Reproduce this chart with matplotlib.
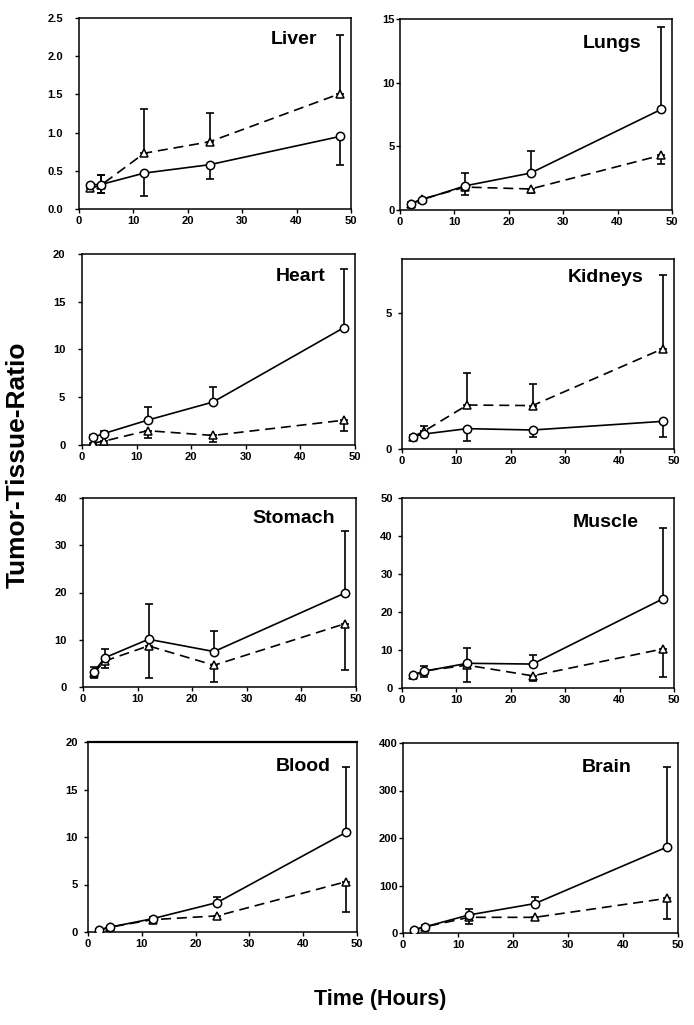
import matplotlib
matplotlib.use("Agg")
import matplotlib.pyplot as plt
import numpy as np

plt.rcParams['font.family'] = ['Liberation Sans', 'DejaVu Sans']
plt.rcParams['font.weight'] = 'bold'

hours = [2, 4, 12, 24, 48]
organs = ["Liver", "Lungs", "Heart", "Kidneys", "Stomach", "Muscle", "Blood", "Brain"]

# circle series (solid line)
liver_c = [0.32, 0.32, 0.47, 0.58, 0.95]
lungs_c = [0.5, 0.8, 1.9, 2.9, 7.9]
heart_c = [0.8, 1.2, 2.6, 4.5, 12.3]
kidneys_c = [0.45, 0.55, 0.75, 0.7, 1.02]
stomach_c = [3.2, 6.2, 10.1, 7.5, 19.9]
muscle_c = [3.3, 4.4, 6.5, 6.3, 23.5]
blood_c = [0.2, 0.5, 1.4, 3.1, 10.5]
brain_c = [7, 13, 38, 62, 181]

liver_c_lo = [0.05, 0.11, 0.30, 0.19, 0.38]
liver_c_hi = [0, 0.12, 0, 0, 0]
lungs_c_lo = [0, 0, 0, 0, 0]
lungs_c_hi = [0.1, 0.1, 1.0, 1.7, 6.5]
heart_c_lo = [0, 0, 0, 0, 0]
heart_c_hi = [0.2, 0.3, 1.4, 1.6, 6.1]
kidneys_c_lo = [0.05, 0.05, 0.45, 0.25, 0.57]
kidneys_c_hi = [0, 0, 0, 0, 0]
stomach_c_lo = [1.0, 0, 0, 0, 0]
stomach_c_hi = [1.0, 1.8, 7.5, 4.3, 13.1]
muscle_c_lo = [0, 0, 0, 0, 0]
muscle_c_hi = [0.5, 1.4, 4.0, 2.5, 18.5]
blood_c_lo = [0, 0, 0, 0, 0]
blood_c_hi = [0.1, 0.1, 0.2, 0.6, 6.9]
brain_c_lo = [0, 0, 0, 0, 0]
brain_c_hi = [2, 3, 12, 13, 169]

# triangle series (dashed line)
liver_t = [0.27, 0.31, 0.73, 0.88, 1.51]
lungs_t = [0.5, 0.85, 1.8, 1.65, 4.3]
heart_t = [0.2, 0.4, 1.5, 1.0, 2.6]
kidneys_t = [0.45, 0.65, 1.62, 1.6, 3.7]
stomach_t = [3.0, 5.5, 8.7, 4.6, 13.4]
muscle_t = [3.3, 4.5, 6.0, 3.2, 10.3]
blood_t = [0.2, 0.5, 1.3, 1.7, 5.3]
brain_t = [6, 13, 33, 33, 73]

liver_t_lo = [0.03, 0.1, 0, 0, 0]
liver_t_hi = [0.03, 0.13, 0.58, 0.38, 0.77]
lungs_t_lo = [0.1, 0.1, 0.6, 0.3, 0.7]
lungs_t_hi = [0, 0, 0, 0, 0]
heart_t_lo = [0.2, 0.3, 0.8, 0.7, 1.1]
heart_t_hi = [0, 0, 0, 0, 0]
kidneys_t_lo = [0, 0, 0, 0, 0]
kidneys_t_hi = [0.05, 0.2, 1.18, 0.8, 2.7]
stomach_t_lo = [1.2, 1.5, 6.7, 3.5, 9.7]
stomach_t_hi = [0, 0, 0, 0, 0]
muscle_t_lo = [0.5, 1.5, 4.3, 1.3, 7.5]
muscle_t_hi = [0, 0, 0, 0, 0]
blood_t_lo = [0.1, 0.1, 0.2, 0.3, 3.2]
blood_t_hi = [0, 0, 0, 0, 0]
brain_t_lo = [2, 2, 13, 5, 43]
brain_t_hi = [0, 0, 0, 0, 0]

y_ticks = [
    [0.0, 0.5, 1.0, 1.5, 2.0, 2.5],
    [0, 5, 10, 15],
    [0, 5, 10, 15, 20],
    [0, 5],
    [0, 10, 20, 30, 40],
    [0, 10, 20, 30, 40, 50],
    [0, 5, 10, 15, 20],
    [0, 100, 200, 300, 400],
]
y_max = [2.5, 15, 20, 7, 40, 50, 20, 400]
x_ticks = [0, 10, 20, 30, 40, 50]

circ = [liver_c, lungs_c, heart_c, kidneys_c, stomach_c, muscle_c, blood_c, brain_c]
circ_lo = [liver_c_lo, lungs_c_lo, heart_c_lo, kidneys_c_lo, stomach_c_lo, muscle_c_lo, blood_c_lo, brain_c_lo]
circ_hi = [liver_c_hi, lungs_c_hi, heart_c_hi, kidneys_c_hi, stomach_c_hi, muscle_c_hi, blood_c_hi, brain_c_hi]
tri = [liver_t, lungs_t, heart_t, kidneys_t, stomach_t, muscle_t, blood_t, brain_t]
tri_lo = [liver_t_lo, lungs_t_lo, heart_t_lo, kidneys_t_lo, stomach_t_lo, muscle_t_lo, blood_t_lo, brain_t_lo]
tri_hi = [liver_t_hi, lungs_t_hi, heart_t_hi, kidneys_t_hi, stomach_t_hi, muscle_t_hi, blood_t_hi, brain_t_hi]

W, H = 694, 1025
fig = plt.figure(figsize=(W / 100, H / 100), dpi=100)

# axes boxes in pixels: left, top, right, bottom
boxes = [
    (79, 18, 351, 209), (400, 19, 672, 210),
    (82, 254, 355, 445), (402, 259, 674, 449),
    (83, 498, 356, 687), (402, 498, 674, 688),
    (88, 742, 357, 932), (403, 743, 678, 933),
]
title_pos = [(0.79, 0.885), (0.78, 0.87), (0.80, 0.88), (0.75, 0.90),
             (0.77, 0.89), (0.75, 0.87), (0.80, 0.87), (0.74, 0.87)]
y_pads = [8.5, 1.0, 9.0, 4.3, 8.5, 3.6, 4.3, 1.0]

for i, name in enumerate(organs):
    l, t, r, b = boxes[i]
    ax = fig.add_axes([l / W, 1 - b / H, (r - l) / W, (b - t) / H])
    ax.errorbar(hours, circ[i], yerr=[circ_lo[i], circ_hi[i]], fmt='none',
                ecolor='black', elinewidth=1.2, capsize=3, capthick=1.2, zorder=2)
    ax.errorbar(hours, tri[i], yerr=[tri_lo[i], tri_hi[i]], fmt='none',
                ecolor='black', elinewidth=1.2, capsize=3, capthick=1.2, zorder=2)
    ax.plot(hours, tri[i], color='black', lw=1.2, ls=(0, (6, 3.5)), marker='^',
            ms=6, mfc='white', mec='black', mew=1.1, zorder=3)
    ax.plot(hours, circ[i], color='black', lw=1.2, ls='-', marker='o',
            ms=6, mfc='white', mec='black', mew=1.1, zorder=4)
    ax.set_xlim(0, 50)
    ax.set_ylim(0, y_max[i])
    ax.set_xticks(x_ticks)
    ax.set_yticks(y_ticks[i])
    if i == 0:
        ax.set_yticklabels([f"{v:.1f}" for v in y_ticks[i]])
    ax.tick_params(direction='out', length=3, width=1, labelsize=8, pad=2)
    ax.tick_params(axis='y', pad=y_pads[i])
    for lab in ax.get_xticklabels() + ax.get_yticklabels():
        lab.set_fontweight('bold')
    for sp in ax.spines.values():
        sp.set_linewidth(1.1)
    if name == "Blood":
        ax.spines['top'].set_linewidth(1.6)
    tx, ty = title_pos[i]
    ax.text(tx, ty, name, transform=ax.transAxes, ha='center', va='center',
            fontsize=14, fontweight='bold')

fig.text(18 / W, 1 - 465 / H, "Tumor-Tissue-Ratio", rotation=90, ha='center', va='center',
         fontsize=19, fontweight='bold')
fig.text(380 / W, 1 - 1000 / H, "Time (Hours)", ha='center', va='center',
         fontsize=15.5, fontweight='bold')

fig.savefig("out.png", dpi=100, facecolor='white')
